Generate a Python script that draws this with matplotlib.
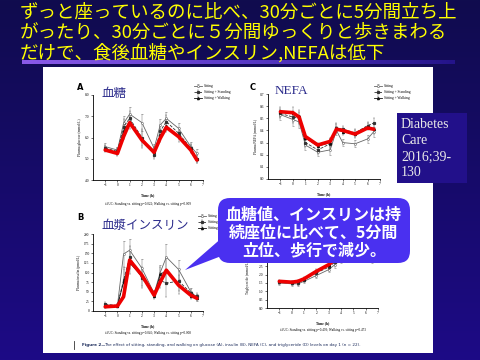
import numpy as np
import matplotlib.pyplot as plt
from matplotlib.colors import LinearSegmentedColormap
from matplotlib.patches import Rectangle, FancyBboxPatch, Polygon

plt.rcParams['font.family'] = ['Noto Sans CJK JP', 'DejaVu Sans']

# time points (h)
times = [-1, 0, 0.5, 1, 2, 3, 3.5, 4, 5, 6, 6.5]

# A: plasma glucose (mmol/L)
glu_sit = [5.57, 5.41, 6.67, 7.1, 6.7, 5.49, 6.59, 6.9, 6.43, 5.57, 5.25]
glu_stand = [5.5, 5.35, 6.5, 6.9, 6.0, 5.2, 6.3, 6.75, 6.2, 5.5, 5.0]
glu_walk = [5.45, 5.3, 6.3, 6.75, 5.9, 5.3, 6.1, 6.55, 6.05, 5.45, 5.0]
glu_err = [0.15, 0.15, 0.35, 0.35, 0.4, 0.2, 0.3, 0.3, 0.25, 0.2, 0.2]
glu_red = [5.41, 5.25, 6.04, 6.7, 5.88, 5.3, 5.96, 6.48, 6.04, 5.41, 4.94]

# B: plasma insulin
ins_sit = [15, 14, 148, 158, 111, 46, 100, 140, 108, 50, 35]
ins_stand = [18, 14, 80, 140, 85, 44, 80, 72, 78, 47, 38]
ins_walk = [12, 14, 75, 125, 90, 40, 95, 105, 68, 40, 33]
ins_err = [5, 4, 35, 30, 25, 8, 20, 35, 25, 10, 8]
ins_red = [11, 13, 37, 132, 93, 41, 75, 106, 67, 41, 33]

# C: NEFA (mmol/L)
nefa_sit = [0.53, 0.49, 0.47, 0.28, 0.22, 0.24, 0.40, 0.30, 0.29, 0.33, 0.39]
nefa_stand = [0.54, 0.51, 0.50, 0.30, 0.24, 0.29, 0.42, 0.41, 0.38, 0.44, 0.46]
nefa_walk = [0.55, 0.54, 0.52, 0.34, 0.27, 0.30, 0.41, 0.39, 0.37, 0.43, 0.41]
nefa_err = [0.04, 0.05, 0.05, 0.04, 0.03, 0.04, 0.04, 0.03, 0.03, 0.03, 0.04]
nefa_red = [0.554, 0.546, 0.51, 0.35, 0.28, 0.31, 0.41, 0.40, 0.37, 0.42, 0.41]

# D: triglyceride (mmol/L)
tg_sit = [1.5, 1.45, 1.45, 1.6, 1.95, 2.3, 2.6, 2.9, 3.1, 3.0, 2.9]
tg_stand = [1.55, 1.5, 1.5, 1.7, 2.1, 2.45, 2.75, 3.0, 3.2, 3.1, 3.0]
tg_walk = [1.6, 1.55, 1.6, 1.75, 2.2, 2.6, 2.9, 3.1, 3.3, 3.2, 3.1]
tg_err = [0.1, 0.1, 0.1, 0.1, 0.15, 0.15, 0.2, 0.2, 0.2, 0.2, 0.2]
tg_red = tg_walk

xticks = [-1, 0, 1, 2, 3, 4, 5, 6, 7]
legend_names = ['Sitting', 'Sitting + Standing', 'Sitting + Walking']

title_lines = ['ずっと座っているのに比べ、30分ごとに5分間立ち上',
               'がったり、30分ごとに５分間ゆっくりと歩きまわる',
               'だけで、食後血糖やインスリン,NEFAは低下']
callout_lines = ['血糖値、インスリンは持', '続座位に比べて、5分間', '立位、歩行で減少。']
journal_lines = ['Diabetes', 'Care', '2016;39-', '130']

W, H = 480, 360
fig = plt.figure(figsize=(4.8, 3.6), dpi=100)

# slide background
bg = fig.add_axes([0, 0, 1, 1])
cmap = LinearSegmentedColormap.from_list('bg', ['#100c4e', '#1d0a86'])
bg.imshow(np.linspace(0, 1, 200)[:, None], cmap=cmap, aspect='auto', extent=(0, W, H, 0))
bar = LinearSegmentedColormap.from_list('bar', ['#8a5ae8', '#5a3ac8', '#24148a'])
bg.imshow(np.linspace(0, 1, 200)[None, :], cmap=bar, aspect='auto', extent=(22, 455, 64, 60))
bg.set_xlim(0, W)
bg.set_ylim(H, 0)
bg.axis('off')

for i, s in enumerate(title_lines):
    bg.text(20, 13 + 20 * i, s, color='#ffff00', fontsize=13.3, va='center', ha='left')

bg.add_patch(Rectangle((43, 67), 390, 286, fc='white', ec='none'))

serif = ['Liberation Serif', 'DejaVu Serif']
tiny = 2.6


def fax(x0, y0, x1, y1):
    return [x0 / W, 1 - y1 / H, (x1 - x0) / W, (y1 - y0) / H]


def panel(rect, sit, stand, walk, err, red, ylim, yticks, ylabels, ylabel, caption):
    ax = fig.add_axes(fax(*rect))
    ax.set_facecolor('none')
    kw = dict(lw=0.6, elinewidth=0.35, capsize=0.8, capthick=0.35, ecolor='#777777')
    ax.errorbar(times, sit, yerr=err, color='#666666', marker='o', ms=1.4,
                mfc='white', mew=0.4, label=legend_names[0], **kw)
    ax.errorbar(times, stand, yerr=err, color='#333333', ls='--', marker='s', ms=1.3,
                label=legend_names[1], **kw)
    ax.errorbar(times, walk, yerr=err, color='#111111', marker='^', ms=1.4,
                label=legend_names[2], **kw)
    ax.plot(times, red, color='#ee0000', lw=2.6, solid_capstyle='round',
            solid_joinstyle='round', zorder=6)
    ax.set_xlim(-2, 7)
    ax.set_ylim(*ylim)
    ax.set_xticks(xticks)
    ax.set_yticks(yticks)
    ax.set_yticklabels(ylabels)
    for sp in ['top', 'right']:
        ax.spines[sp].set_visible(False)
    for sp in ['left', 'bottom']:
        ax.spines[sp].set_linewidth(0.6)
    ax.tick_params(labelsize=tiny, length=1.5, width=0.4, pad=1)
    for lab in ax.get_xticklabels() + ax.get_yticklabels():
        lab.set_family(serif)
    ax.set_ylabel(ylabel, fontsize=tiny, family=serif, labelpad=2)
    ax.set_xlabel('Time (h)', fontsize=tiny, family=serif, labelpad=4, weight='bold')
    if caption:
        ax.text(0.5, -0.26, caption, transform=ax.transAxes, fontsize=tiny * 0.9,
                family=serif, ha='center', va='top')
    return ax


glu_ticks = [4, 5, 6, 7, 8]
ins_ticks = list(range(0, 201, 25))
nefa_ticks = [0, 0.1, 0.2, 0.3, 0.4, 0.5, 0.6, 0.7]
tg_ticks = [0, 0.5, 1, 1.5, 2, 2.5, 3, 3.5, 4, 4.5]

axA = panel((93, 95, 203, 180), glu_sit, glu_stand, glu_walk, glu_err, glu_red,
            (4, 8), glu_ticks, ['{:.1f}'.format(v) for v in glu_ticks], 'Plasma glucose (mmol/L)',
            'iAUC: Standing vs. sitting p=0.022; Walking vs. sitting p=0.009')
axB = panel((93, 234, 203, 311), ins_sit, ins_stand, ins_walk, ins_err, ins_red,
            (0, 200), ins_ticks, [str(v) for v in ins_ticks], 'Plasma insulin (pmol/L)',
            'iAUC: Standing vs. sitting p=0.045; Walking vs. sitting p=0.008')
axC = panel((268, 94, 380, 179), nefa_sit, nefa_stand, nefa_walk, nefa_err, nefa_red,
            (0, 0.7), nefa_ticks, ['{:.1f}'.format(v) for v in nefa_ticks], 'Plasma NEFA (mmol/L)',
            None)
# labels above 2.5 sit behind the callout
axD = panel((267, 233, 378, 308), tg_sit, tg_stand, tg_walk, tg_err, tg_red,
            (0, 4.5), tg_ticks, ['{:.1f}'.format(v) if v <= 2.5 else '' for v in tg_ticks],
            'Triglyceride (mmol/L)',
            'iAUC: Standing vs. sitting p=0.493; Walking vs. sitting p=0.473')
axD.yaxis.set_label_coords(-0.15, 0.4)

for ax, (lx, ly) in zip([axA, axB, axC], [(192, 82), (196, 212), (372, 82)]):
    ax.legend(loc='upper left', bbox_to_anchor=(lx / W, 1 - ly / H), bbox_transform=fig.transFigure,
              frameon=False, handlelength=2.2, handletextpad=0.5,
              labelspacing=0.6, borderpad=0, prop={'family': serif, 'size': tiny})

# panel labels and Japanese headings
bg2 = fig.add_axes([0, 0, 1, 1], zorder=5)
bg2.set_xlim(0, W)
bg2.set_ylim(H, 0)
bg2.axis('off')
for s, x, y in [('A', 80, 88), ('B', 80, 217), ('C', 253, 88)]:
    bg2.text(x, y, s, fontsize=6, weight='bold', family='DejaVu Sans', ha='center', va='center')
bg2.text(102, 93, '血糖', color='#2c2c8c', fontsize=9, va='center')
bg2.text(102, 225, '血漿インスリン', color='#2c2c8c', fontsize=9, va='center')
bg2.text(275, 91, 'NEFA', color='#2c2c8c', fontsize=9.5, va='center', family=serif)
bg2.plot([74, 74], [341, 349], color='#333333', lw=0.6)
bg2.text(82, 345, 'Figure 2—', fontsize=3, weight='bold', va='center', color='#1a2a5a', family='DejaVu Sans')
bg2.text(104, 345, 'The effect of sitting, standing, and walking on glucose (A), insulin (B), NEFA (C), '
         'and triglyceride (D) levels on day 1 (n = 22).', fontsize=3, va='center', color='#1a2a5a',
         family='DejaVu Sans')

# overlays: journal box and callout
bg2.add_patch(Rectangle((397, 113), 70, 70, fc='#22108a', ec='none'))
for i, s in enumerate(journal_lines):
    bg2.text(401, 125 + 16 * i, s, color='#e8e8e8', fontsize=10, va='center', family=serif)

bg2.add_patch(Polygon([(224, 236), (185, 270), (224, 255)], closed=True, fc='#4a30f0', ec='none'))
bg2.add_patch(FancyBboxPatch((218, 198), 192, 65, boxstyle='round,pad=0,rounding_size=12',
                             fc='#4a30f0', ec='none'))
for i, s in enumerate(callout_lines):
    bg2.text(314, 215 + 17.5 * i, s, color='white', fontsize=11.5, ha='center', va='center',
             weight='bold')

fig.savefig('out.png', dpi=100)
